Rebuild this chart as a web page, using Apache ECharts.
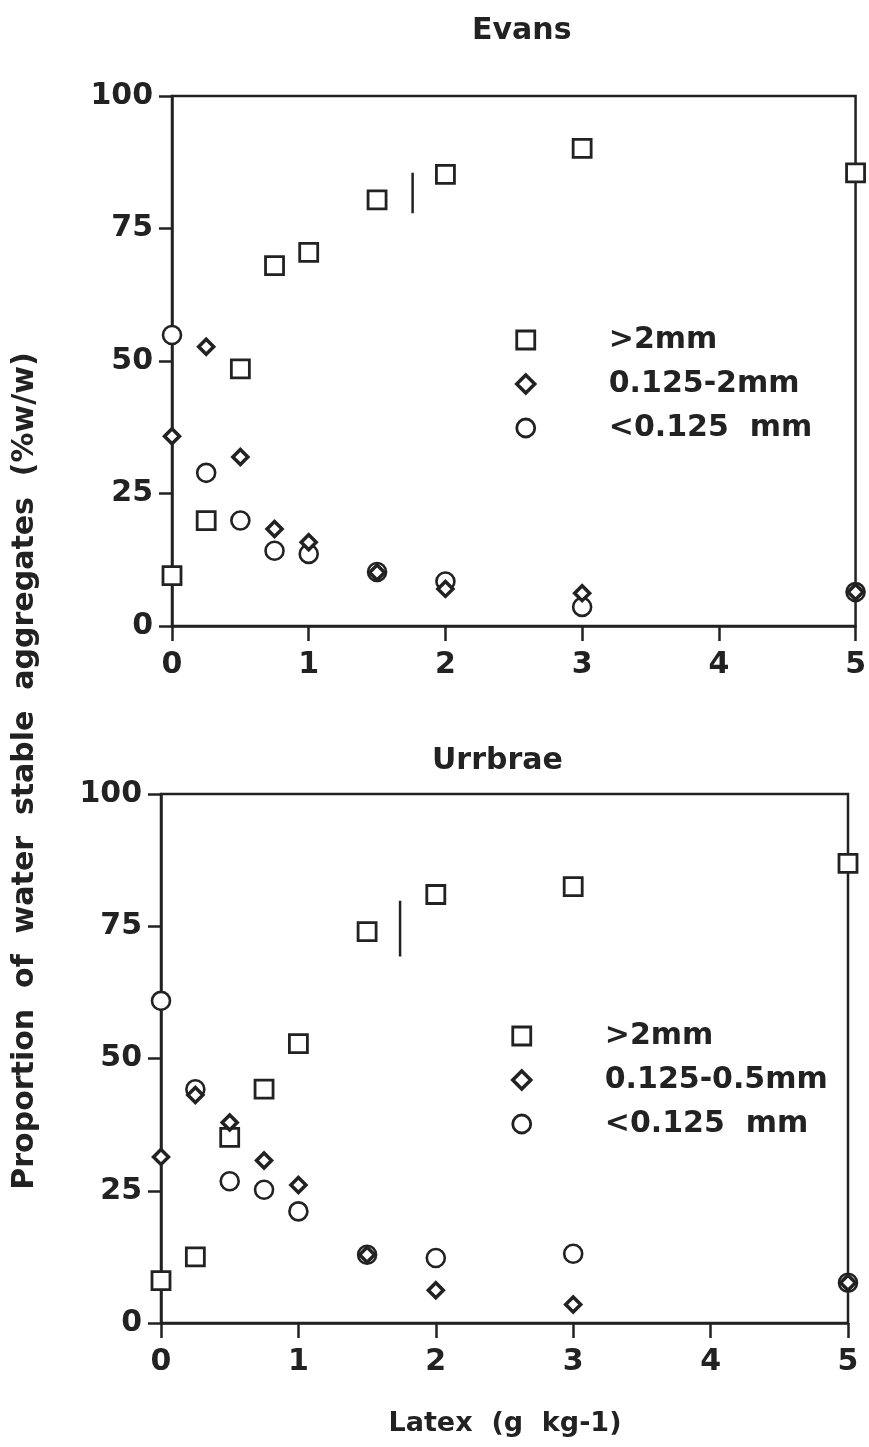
<!DOCTYPE html>
<html>
<head>
<meta charset="utf-8">
<title>Latex aggregates</title>
<script src="https://cdn.jsdelivr.net/npm/echarts@6/dist/echarts.min.js"></script>
<style>
  html, body { margin: 0; padding: 0; background: #fff; }
  #main { width: 869px; height: 1447px; }
</style>
</head>
<body>
<div id="main"></div>
<script>
// latex rate (g kg-1), shared by both soils
var latex = [0, 0.25, 0.5, 0.75, 1, 1.5, 2, 3, 5];

// Evans
var evansLarge = [9.5, 19.9, 48.5, 68, 70.5, 80.4, 85.2, 90.1, 85.5];
var evansMid   = [35.8, 52.7, 31.9, 18.3, 15.8, 10.1, 7.0, 6.2, 6.4];
var evansFine  = [54.9, 28.9, 19.9, 14.2, 13.6, 10.2, 8.4, 3.6, 6.4];
var evansLsdX = 1.76;
var evansLsd  = [77.9, 85.5];

// Urrbrae
var urrLarge = [8.0, 12.5, 35.1, 44.2, 52.8, 74.0, 81.0, 82.5, 86.9];
var urrMid   = [31.4, 43.1, 37.9, 30.7, 26.1, 12.9, 6.2, 3.5, 7.6];
var urrFine  = [60.9, 44.2, 26.8, 25.2, 21.1, 12.9, 12.3, 13.1, 7.6];
var urrLsdX = 1.74;
var urrLsd  = [69.3, 79.8];

var yTicks = [0, 25, 50, 75, 100];
var xTicks = [0, 1, 2, 3, 4, 5];

var ink = '#222';
var font = 'DejaVu Sans';

function pairs(xs, ys){
	var out = [];
	for(var i = 0; i < xs.length; i++){
		out.push([xs[i], ys[i]]);
	}
	return out;
}

function dot(name, symbol, size, bw, values, idx){
	return {
		name: name,
		type: 'scatter',
		xAxisIndex: idx,
		yAxisIndex: idx,
		symbol: symbol,
		symbolSize: size,
		clip: false,
		itemStyle: { color: '#fff', borderColor: ink, borderWidth: bw, opacity: 1 },
		emphasis: { disabled: true },
		data: pairs(latex, values)
	};
}

function lsd(x, range, idx){
	return {
		name: 'LSD',
		type: 'line',
		xAxisIndex: idx,
		yAxisIndex: idx,
		symbol: 'none',
		lineStyle: { color: ink, width: 2.5 },
		data: [[x, range[0]], [x, range[1]]]
	};
}

function xAx(idx){
	return {
		type: 'value', gridIndex: idx,
		min: xTicks[0], max: xTicks[xTicks.length - 1], interval: 1,
		splitLine: { show: false },
		axisLine: { lineStyle: { color: ink, width: 2.5 } },
		axisTick: { inside: false, length: 15, lineStyle: { color: ink, width: 2.5 } },
		axisLabel: { color: ink, fontFamily: font, fontWeight: 'bold', fontSize: 30, margin: 24 }
	};
}

function yAx(idx){
	return {
		type: 'value', gridIndex: idx,
		min: yTicks[0], max: yTicks[yTicks.length - 1], interval: 25,
		splitLine: { show: false },
		axisLine: { lineStyle: { color: ink, width: 2.5 } },
		axisTick: { inside: false, length: 13, lineStyle: { color: ink, width: 2.5 } },
		axisLabel: { color: ink, fontFamily: font, fontWeight: 'bold', fontSize: 30, margin: 19 }
	};
}

function legendBox(names, left, top){
	var items = [];
	for(var i = 0; i < names.length; i++){
		items.push({
			name: names[i],
			itemStyle: { borderColor: ink, borderWidth: i == 1 ? 3.5 : 2.8 }
		});
	}
	return {
		orient: 'vertical',
		left: left,
		top: top,
		itemWidth: 18,
		itemHeight: 18,
		itemGap: 14,
		selectedMode: false,
		data: items,
		textStyle: { color: ink, fontFamily: font, fontWeight: 'bold', fontSize: 30, padding: [0, 0, 0, 69] }
	};
}

var myChart = echarts.init(document.getElementById('main'));

var option = {
	backgroundColor: '#fff',
	animation: false,
	title: [
		{ text: 'Evans', left: 467, top: 11,
		  textStyle: { color: ink, fontFamily: font, fontWeight: 'bold', fontSize: 30 } },
		{ text: 'Urrbrae', left: 427, top: 741,
		  textStyle: { color: ink, fontFamily: font, fontWeight: 'bold', fontSize: 30 } }
	],
	grid: [
		{ left: 172, top: 96, width: 685, height: 530, show: true, borderColor: ink, borderWidth: 2.5 },
		{ left: 161, top: 794, width: 687, height: 529, show: true, borderColor: ink, borderWidth: 2.5 }
	],
	xAxis: [xAx(0), xAx(1)],
	yAxis: [yAx(0), yAx(1)],
	legend: [
		legendBox(['>2mm', '0.125-2mm', '<0.125  mm'], 510, 320),
		legendBox(['>2mm', '0.125-0.5mm', '<0.125  mm'], 506, 1016)
	],
	graphic: [
		{ type: 'text', x: 25, y: 771, rotation: Math.PI / 2,
		  style: { text: 'Proportion  of  water  stable  aggregates  (%w/w)', fill: ink,
		           font: 'bold 30px "DejaVu Sans"', align: 'center', verticalAlign: 'middle' } },
		{ type: 'text', x: 505, y: 1424,
		  style: { text: 'Latex  (g  kg-1)', fill: ink,
		           font: 'bold 27px "DejaVu Sans"', align: 'center', verticalAlign: 'middle' } }
	],
	series: [
		dot('>2mm', 'rect', 18, 2.8, evansLarge, 0),
		dot('<0.125  mm', 'circle', 18, 2.6, evansFine, 0),
		dot('0.125-2mm', 'diamond', 15, 3.5, evansMid, 0),
		lsd(evansLsdX, evansLsd, 0),
		dot('>2mm', 'rect', 18, 2.8, urrLarge, 1),
		dot('<0.125  mm', 'circle', 18, 2.6, urrFine, 1),
		dot('0.125-0.5mm', 'diamond', 15, 3.5, urrMid, 1),
		lsd(urrLsdX, urrLsd, 1)
	]
};

myChart.setOption(option);
</script>
</body>
</html>
